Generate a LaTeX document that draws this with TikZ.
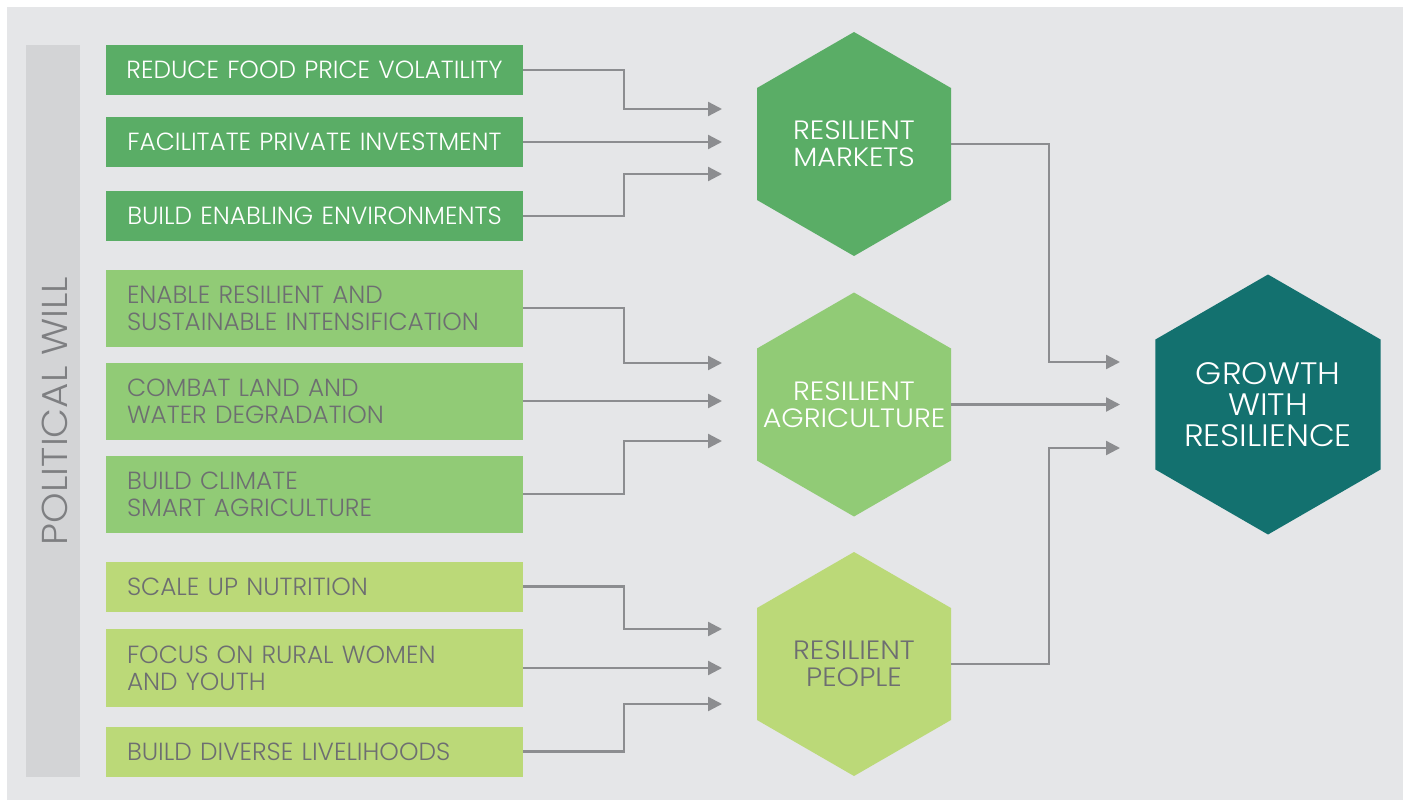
\documentclass[tikz,border=0pt]{standalone}
\usepackage{fontspec}
\setmainfont{Poppins}[UprightFont=* Light]
\newfontfamily\widefont{Poppins}[UprightFont=* Light, FakeStretch=1.08]
\usetikzlibrary{shapes.geometric,arrows.meta,calc}
\definecolor{bgc}{HTML}{E5E6E8}
\definecolor{barc}{HTML}{D3D4D6}
\definecolor{gdark}{HTML}{5AAD66}
\definecolor{gmid}{HTML}{91CB76}
\definecolor{glight}{HTML}{BBD978}
\definecolor{teal}{HTML}{13716F}
\definecolor{txtg}{HTML}{6D6E71}
\definecolor{pwg}{HTML}{7E7F82}
\definecolor{linec}{HTML}{8C8D90}
\begin{document}
\begin{tikzpicture}[x=1pt,y=-1pt,
  box/.style={minimum width=417pt, minimum height=50pt, inner xsep=21pt, inner ysep=0pt,
    text width=375pt, font=\fontsize{24.8}{27}\selectfont},
  boxc/.style={box, fill=gdark, text=white, align=center, inner xsep=5pt, text width=407pt},
  boxm/.style={box, fill=gmid, text=txtg, align=left, minimum height=77pt},
  boxl/.style={box, fill=glight, text=txtg, align=left},
  hex/.style={regular polygon, regular polygon sides=6, shape border rotate=30,
    inner sep=0pt, minimum size=224pt},
  hext/.style={align=center, inner sep=0pt, font=\widefont\fontsize{26.5}{27}\selectfont},
  conn/.style={draw=linec, line width=2.3pt, -{Triangle[length=14pt,width=14pt]}}
]
\useasboundingbox (0,0) rectangle (1407,800);
\fill[white] (0,0) rectangle (1407,800);
\fill[bgc] (7,7) rectangle (1403,800);

% political will bar
\node[fill=barc, minimum width=54pt, minimum height=732pt, inner sep=0pt] (pw) at (53,411) {};
\node[rotate=90, text=pwg, font=\widefont\fontsize{36}{36}\selectfont, inner sep=0pt] (pwl) at (55,411) {POLITICAL WILL};

% boxes
\node[boxc] (b1) at (314.5,70) {REDUCE FOOD PRICE VOLATILITY};
\node[boxc] (b2) at (314.5,142) {FACILITATE PRIVATE INVESTMENT};
\node[boxc] (b3) at (314.5,216) {BUILD ENABLING ENVIRONMENTS};
\node[boxm] (b4) at (314.5,308) {ENABLE RESILIENT AND\\SUSTAINABLE INTENSIFICATION};
\node[boxm] (b5) at (314.5,401) {COMBAT LAND AND\\WATER DEGRADATION};
\node[boxm] (b6) at (314.5,494) {BUILD CLIMATE\\SMART AGRICULTURE};
\node[boxl] (b7) at (314.5,586.5) {SCALE UP NUTRITION};
\node[boxl, minimum height=78pt] (b8) at (314.5,668) {FOCUS ON RURAL WOMEN\\AND YOUTH};
\node[boxl] (b9) at (314.5,751.5) {BUILD DIVERSE LIVELIHOODS};

% hexagons
\node[hex, fill=gdark] (mk) at (854,144) {};
\node[hext, text=white] (mkt) at (mk.center) {RESILIENT\\MARKETS};
\node[hex, fill=gmid] (ag) at (854,404.5) {};
\node[hext, text=white] (agt) at (ag.center) {RESILIENT\\AGRICULTURE};
\node[hex, fill=glight] (pp) at (854,664) {};
\node[hext, text=txtg] (ppt) at (pp.center) {RESILIENT\\PEOPLE};
\node[hex, fill=teal, minimum size=260pt] (gr) at (1268,404.5) {};
\node[hext, text=white, font=\widefont\fontsize{31}{31}\selectfont] (grt) at (gr.center) {GROWTH\\WITH\\RESILIENCE};

% arrow targets
\coordinate (ex) at (624,0);
\coordinate (m1) at (722,109);
\coordinate (m2) at (722,143);
\coordinate (m3) at (722,174);
\coordinate (a1) at (722,363);
\coordinate (a2) at (722,402);
\coordinate (a3) at (722,441);
\coordinate (p1) at (722,629);
\coordinate (p2) at (722,668);
\coordinate (p3) at (722,704);
\coordinate (gx) at (1049,0);
\coordinate (g1) at (1120,362);
\coordinate (g2) at (1120,407);
\coordinate (g3) at (1120,448);

\draw[conn] (b1.east) -- (b1.east -| ex) |- (m1);
\draw[conn] (b2.east) -- (b2.east -| m2);
\draw[conn] (b3.east) -- (b3.east -| ex) |- (m3);
\draw[conn] (b4.east) -- (b4.east -| ex) |- (a1);
\draw[conn] (b5.east) -- (b5.east -| a2);
\draw[conn] (b6.east) -- (b6.east -| ex) |- (a3);
\draw[conn] (b7.east) -- (b7.east -| ex) |- (p1);
\draw[conn] (b8.east) -- (b8.east -| p2);
\draw[conn] (b9.east) -- (b9.east -| ex) |- (p3);

\draw[conn] (mk.east) -- (mk.east -| gx) |- (g1);
\draw[conn] (ag.east) -- (ag.east -| g2);
\draw[conn] (pp.east) -- (pp.east -| gx) |- (g3);
\end{tikzpicture}
\end{document}
